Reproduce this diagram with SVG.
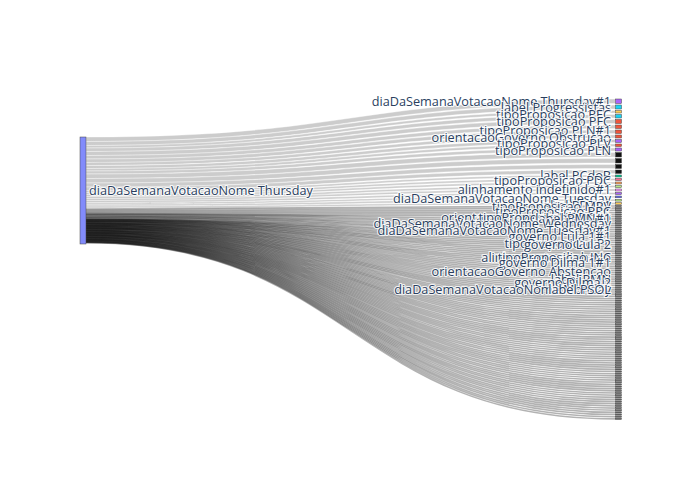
<svg xmlns="http://www.w3.org/2000/svg" width="700" height="500" viewBox="0 0 700 500">
<style>
.lk{fill:#000;fill-opacity:.2;stroke:#fff;stroke-width:.5;stroke-opacity:.8}
.ln{fill:none;stroke:#000;stroke-opacity:.3;stroke-width:1.6}
.nd{stroke:#444;stroke-width:.5}
.nm{fill:#666;stroke:#444;stroke-width:.5}
.lb{font-family:"Open Sans","Liberation Sans",sans-serif;font-size:12.7px;fill:#2a3f5f;stroke:#fff;stroke-width:2.2px;stroke-opacity:.85;stroke-linejoin:round;paint-order:stroke}
.r{text-anchor:end}
</style>
<rect width="700" height="500" fill="#fff"/>
<g id="connectors">
<path class="lk" d="M86,137C351,137 351,99 615.5,99L615.5,103.5C351,103.5 351,141.5 86,141.5Z"/>
<path class="lk" d="M86,141.5C351,141.5 351,105 615.5,105L615.5,109C351,109 351,145.5 86,145.5Z"/>
<path class="lk" d="M86,145.5C351,145.5 351,110.5 615.5,110.5L615.5,113C351,113 351,148 86,148Z"/>
<path class="lk" d="M86,148C351,148 351,114.5 615.5,114.5L615.5,118C351,118 351,151.5 86,151.5Z"/>
<path class="lk" d="M86,151.5C351,151.5 351,119.5 615.5,119.5L615.5,123.5C351,123.5 351,155.5 86,155.5Z"/>
<path class="lk" d="M86,155.5C351,155.5 351,125 615.5,125L615.5,128.5C351,128.5 351,159 86,159Z"/>
<path class="lk" d="M86,159C351,159 351,130 615.5,130L615.5,133.5C351,133.5 351,162.5 86,162.5Z"/>
<path class="lk" d="M86,162.5C351,162.5 351,135 615.5,135L615.5,138C351,138 351,165.5 86,165.5Z"/>
<path class="lk" d="M86,165.5C351,165.5 351,139.5 615.5,139.5L615.5,142.5C351,142.5 351,168.5 86,168.5Z"/>
<path class="lk" d="M86,168.5C351,168.5 351,144 615.5,144L615.5,146.5C351,146.5 351,171 86,171Z"/>
<path class="lk" d="M86,171C351,171 351,148 615.5,148L615.5,151C351,151 351,174 86,174Z"/>
<path class="lk" d="M86,174C351,174 351,152.5 615.5,152.5L615.5,157C351,157 351,178.5 86,178.5Z"/>
<path class="lk" d="M86,178.5C351,178.5 351,158.5 615.5,158.5L615.5,163C351,163 351,183 86,183Z"/>
<path class="lk" d="M86,183C351,183 351,164.5 615.5,164.5L615.5,168.5C351,168.5 351,187 86,187Z"/>
<path class="lk" d="M86,187C351,187 351,170 615.5,170L615.5,173.5C351,173.5 351,190.5 86,190.5Z"/>
<path class="lk" d="M86,190.5C351,190.5 351,175 615.5,175L615.5,177C351,177 351,192.5 86,192.5Z"/>
<path class="lk" d="M86,192.5C351,192.5 351,178.5 615.5,178.5L615.5,180.5C351,180.5 351,194.5 86,194.5Z"/>
<path class="lk" d="M86,194.5C351,194.5 351,182 615.5,182L615.5,184C351,184 351,196.5 86,196.5Z"/>
<path class="lk" d="M86,196.5C351,196.5 351,185.5 615.5,185.5L615.5,187.5C351,187.5 351,198.5 86,198.5Z"/>
<path class="lk" d="M86,198.5C351,198.5 351,189 615.5,189L615.5,191C351,191 351,200.5 86,200.5Z"/>
<path class="lk" d="M86,200.5C351,200.5 351,192.5 615.5,192.5L615.5,194.5C351,194.5 351,202.5 86,202.5Z"/>
<path class="lk" d="M86,202.5C351,202.5 351,196 615.5,196L615.5,197.8C351,197.8 351,204.3 86,204.3Z"/>
<path class="lk" d="M86,204.3C351,204.3 351,199.3 615.5,199.3L615.5,201.1C351,201.1 351,206.1 86,206.1Z"/>
<path class="lk" d="M86,206.1C351,206.1 351,202.6 615.5,202.6L615.5,204.4C351,204.4 351,207.9 86,207.9Z"/>
<path class="ln" d="M86,209C351,209 351,206 615.5,206"/>
<path class="ln" d="M86,210C351,210 351,208.15 615.5,208.15"/>
<path class="ln" d="M86,211C351,211 351,210.3 615.5,210.3"/>
<path class="ln" d="M86,212C351,212 351,212.45 615.5,212.45"/>
<path class="ln" d="M86,213C351,213 351,214.6 615.5,214.6"/>
<path class="ln" d="M86,213.6C351,213.6 351,216.75 615.5,216.75"/>
<path class="ln" d="M86,214.2C351,214.2 351,218.9 615.5,218.9"/>
<path class="ln" d="M86,214.8C351,214.8 351,221.05 615.5,221.05"/>
<path class="ln" d="M86,215.4C351,215.4 351,223.2 615.5,223.2"/>
<path class="ln" d="M86,216C351,216 351,225.35 615.5,225.35"/>
<path class="ln" d="M86,216.6C351,216.6 351,227.5 615.5,227.5"/>
<path class="ln" d="M86,217.2C351,217.2 351,229.65 615.5,229.65"/>
<path class="ln" d="M86,217.8C351,217.8 351,231.8 615.5,231.8"/>
<path class="ln" d="M86,218.4C351,218.4 351,233.95 615.5,233.95"/>
<path class="ln" d="M86,219C351,219 351,236.1 615.5,236.1"/>
<path class="ln" d="M86,219.3C351,219.3 351,238.25 615.5,238.25"/>
<path class="ln" d="M86,219.58C351,219.58 351,240.4 615.5,240.4"/>
<path class="ln" d="M86,219.86C351,219.86 351,242.55 615.5,242.55"/>
<path class="ln" d="M86,220.14C351,220.14 351,244.7 615.5,244.7"/>
<path class="ln" d="M86,220.42C351,220.42 351,246.85 615.5,246.85"/>
<path class="ln" d="M86,220.7C351,220.7 351,249 615.5,249"/>
<path class="ln" d="M86,220.98C351,220.98 351,251.15 615.5,251.15"/>
<path class="ln" d="M86,221.26C351,221.26 351,253.3 615.5,253.3"/>
<path class="ln" d="M86,221.54C351,221.54 351,255.45 615.5,255.45"/>
<path class="ln" d="M86,221.82C351,221.82 351,257.6 615.5,257.6"/>
<path class="ln" d="M86,222.1C351,222.1 351,259.75 615.5,259.75"/>
<path class="ln" d="M86,222.38C351,222.38 351,261.9 615.5,261.9"/>
<path class="ln" d="M86,222.66C351,222.66 351,264.05 615.5,264.05"/>
<path class="ln" d="M86,222.94C351,222.94 351,266.2 615.5,266.2"/>
<path class="ln" d="M86,223.22C351,223.22 351,268.35 615.5,268.35"/>
<path class="ln" d="M86,223.5C351,223.5 351,270.5 615.5,270.5"/>
<path class="ln" d="M86,223.78C351,223.78 351,272.65 615.5,272.65"/>
<path class="ln" d="M86,224.06C351,224.06 351,274.8 615.5,274.8"/>
<path class="ln" d="M86,224.34C351,224.34 351,276.95 615.5,276.95"/>
<path class="ln" d="M86,224.62C351,224.62 351,279.1 615.5,279.1"/>
<path class="ln" d="M86,224.9C351,224.9 351,281.25 615.5,281.25"/>
<path class="ln" d="M86,225.18C351,225.18 351,283.4 615.5,283.4"/>
<path class="ln" d="M86,225.46C351,225.46 351,285.55 615.5,285.55"/>
<path class="ln" d="M86,225.74C351,225.74 351,287.7 615.5,287.7"/>
<path class="ln" d="M86,226.02C351,226.02 351,289.85 615.5,289.85"/>
<path class="ln" d="M86,226.3C351,226.3 351,292 615.5,292"/>
<path class="ln" d="M86,226.58C351,226.58 351,294.15 615.5,294.15"/>
<path class="ln" d="M86,226.86C351,226.86 351,296.3 615.5,296.3"/>
<path class="ln" d="M86,227.14C351,227.14 351,298.45 615.5,298.45"/>
<path class="ln" d="M86,227.42C351,227.42 351,300.6 615.5,300.6"/>
<path class="ln" d="M86,227.7C351,227.7 351,302.75 615.5,302.75"/>
<path class="ln" d="M86,227.98C351,227.98 351,304.9 615.5,304.9"/>
<path class="ln" d="M86,228.26C351,228.26 351,307.05 615.5,307.05"/>
<path class="ln" d="M86,228.54C351,228.54 351,309.2 615.5,309.2"/>
<path class="ln" d="M86,228.82C351,228.82 351,311.35 615.5,311.35"/>
<path class="ln" d="M86,229.1C351,229.1 351,313.5 615.5,313.5"/>
<path class="ln" d="M86,229.38C351,229.38 351,315.65 615.5,315.65"/>
<path class="ln" d="M86,229.66C351,229.66 351,317.8 615.5,317.8"/>
<path class="ln" d="M86,229.94C351,229.94 351,319.95 615.5,319.95"/>
<path class="ln" d="M86,230.22C351,230.22 351,322.1 615.5,322.1"/>
<path class="ln" d="M86,230.5C351,230.5 351,324.25 615.5,324.25"/>
<path class="ln" d="M86,230.78C351,230.78 351,326.4 615.5,326.4"/>
<path class="ln" d="M86,231.06C351,231.06 351,328.55 615.5,328.55"/>
<path class="ln" d="M86,231.34C351,231.34 351,330.7 615.5,330.7"/>
<path class="ln" d="M86,231.62C351,231.62 351,332.85 615.5,332.85"/>
<path class="ln" d="M86,231.9C351,231.9 351,335 615.5,335"/>
<path class="ln" d="M86,232.18C351,232.18 351,337.15 615.5,337.15"/>
<path class="ln" d="M86,232.46C351,232.46 351,339.3 615.5,339.3"/>
<path class="ln" d="M86,232.74C351,232.74 351,341.45 615.5,341.45"/>
<path class="ln" d="M86,233.02C351,233.02 351,343.6 615.5,343.6"/>
<path class="ln" d="M86,233.3C351,233.3 351,345.75 615.5,345.75"/>
<path class="ln" d="M86,233.58C351,233.58 351,347.9 615.5,347.9"/>
<path class="ln" d="M86,233.86C351,233.86 351,350.05 615.5,350.05"/>
<path class="ln" d="M86,234.14C351,234.14 351,352.2 615.5,352.2"/>
<path class="ln" d="M86,234.42C351,234.42 351,354.35 615.5,354.35"/>
<path class="ln" d="M86,234.7C351,234.7 351,356.5 615.5,356.5"/>
<path class="ln" d="M86,234.98C351,234.98 351,358.65 615.5,358.65"/>
<path class="ln" d="M86,235.26C351,235.26 351,360.8 615.5,360.8"/>
<path class="ln" d="M86,235.54C351,235.54 351,362.95 615.5,362.95"/>
<path class="ln" d="M86,235.82C351,235.82 351,365.1 615.5,365.1"/>
<path class="ln" d="M86,236.1C351,236.1 351,367.25 615.5,367.25"/>
<path class="ln" d="M86,236.38C351,236.38 351,369.4 615.5,369.4"/>
<path class="ln" d="M86,236.66C351,236.66 351,371.55 615.5,371.55"/>
<path class="ln" d="M86,236.94C351,236.94 351,373.7 615.5,373.7"/>
<path class="ln" d="M86,237.22C351,237.22 351,375.85 615.5,375.85"/>
<path class="ln" d="M86,237.5C351,237.5 351,378 615.5,378"/>
<path class="ln" d="M86,237.78C351,237.78 351,380.15 615.5,380.15"/>
<path class="ln" d="M86,238.06C351,238.06 351,382.3 615.5,382.3"/>
<path class="ln" d="M86,238.34C351,238.34 351,384.45 615.5,384.45"/>
<path class="ln" d="M86,238.62C351,238.62 351,386.6 615.5,386.6"/>
<path class="ln" d="M86,238.9C351,238.9 351,388.75 615.5,388.75"/>
<path class="ln" d="M86,239.18C351,239.18 351,390.9 615.5,390.9"/>
<path class="ln" d="M86,239.46C351,239.46 351,393.05 615.5,393.05"/>
<path class="ln" d="M86,239.74C351,239.74 351,395.2 615.5,395.2"/>
<path class="ln" d="M86,240.02C351,240.02 351,397.35 615.5,397.35"/>
<path class="ln" d="M86,240.3C351,240.3 351,399.5 615.5,399.5"/>
<path class="ln" d="M86,240.58C351,240.58 351,401.65 615.5,401.65"/>
<path class="ln" d="M86,240.86C351,240.86 351,403.8 615.5,403.8"/>
<path class="ln" d="M86,241.14C351,241.14 351,405.95 615.5,405.95"/>
<path class="ln" d="M86,241.42C351,241.42 351,408.1 615.5,408.1"/>
<path class="ln" d="M86,241.7C351,241.7 351,410.25 615.5,410.25"/>
<path class="ln" d="M86,241.98C351,241.98 351,412.4 615.5,412.4"/>
<path class="ln" d="M86,242.26C351,242.26 351,414.55 615.5,414.55"/>
<path class="ln" d="M86,242.54C351,242.54 351,416.7 615.5,416.7"/>
<path class="ln" d="M86,242.82C351,242.82 351,418.85 615.5,418.85"/>
</g>
<g id="node-source"><rect class="nd" x="80" y="137" width="6" height="107" fill="#636efa" fill-opacity=".8"/></g>
<g id="node-u1"><rect class="nd" x="615.5" y="99" width="6" height="4.5" fill="#ab63fa"/></g>
<g id="node-u2"><rect class="nd" x="615.5" y="105" width="6" height="4" fill="#19d3f3"/></g>
<g id="node-u3"><rect class="nd" x="615.5" y="110.5" width="6" height="2.5" fill="#fecb52"/></g>
<g id="node-u4"><rect class="nd" x="615.5" y="114.5" width="6" height="3.5" fill="#19d3f3"/></g>
<g id="node-u5"><rect class="nd" x="615.5" y="119.5" width="6" height="4" fill="#ef553b"/></g>
<g id="node-u6"><rect class="nd" x="615.5" y="125" width="6" height="3.5" fill="#ef553b"/></g>
<g id="node-u7"><rect class="nd" x="615.5" y="130" width="6" height="3.5" fill="#ef553b"/></g>
<g id="node-u8"><rect class="nd" x="615.5" y="135" width="6" height="3" fill="#ef553b"/></g>
<g id="node-u9"><rect class="nd" x="615.5" y="139.5" width="6" height="3" fill="#ab63fa"/></g>
<g id="node-u10"><rect class="nd" x="615.5" y="144" width="6" height="2.5" fill="#ef553b"/></g>
<g id="node-u11"><rect class="nd" x="615.5" y="148" width="6" height="3" fill="#ab63fa"/></g>
<g id="node-u12"><rect class="nd" x="615.5" y="152.5" width="6" height="4.5" fill="#111"/></g>
<g id="node-u13"><rect class="nd" x="615.5" y="158.5" width="6" height="4.5" fill="#111"/></g>
<g id="node-u14"><rect class="nd" x="615.5" y="164.5" width="6" height="4" fill="#111"/></g>
<g id="node-u15"><rect class="nd" x="615.5" y="170" width="6" height="3.5" fill="#111"/></g>
<g id="node-u16"><rect class="nd" x="615.5" y="175" width="6" height="2" fill="#00cc96"/></g>
<g id="node-u17"><rect class="nd" x="615.5" y="178.5" width="6" height="2" fill="#ff6692"/></g>
<g id="node-u18"><rect class="nd" x="615.5" y="182" width="6" height="2" fill="#ffa15a"/></g>
<g id="node-u19"><rect class="nd" x="615.5" y="185.5" width="6" height="2" fill="#b6e880"/></g>
<g id="node-u20"><rect class="nd" x="615.5" y="189" width="6" height="2" fill="#ff97ff"/></g>
<g id="node-u21"><rect class="nd" x="615.5" y="192.5" width="6" height="2" fill="#ab63fa"/></g>
<g id="node-u22"><rect class="nd" x="615.5" y="196" width="6" height="1.8" fill="#636efa"/></g>
<g id="node-u23"><rect class="nd" x="615.5" y="199.3" width="6" height="1.8" fill="#b6e880"/></g>
<g id="node-u24"><rect class="nd" x="615.5" y="202.6" width="6" height="1.8" fill="#fecb52"/></g>
<g id="node-m0"><rect class="nm" x="615.5" y="205.4" width="6" height="1.2"/></g>
<g id="node-m1"><rect class="nm" x="615.5" y="207.55" width="6" height="1.2"/></g>
<g id="node-m2"><rect class="nm" x="615.5" y="209.7" width="6" height="1.2"/></g>
<g id="node-m3"><rect class="nm" x="615.5" y="211.85" width="6" height="1.2"/></g>
<g id="node-m4"><rect class="nm" x="615.5" y="214" width="6" height="1.2"/></g>
<g id="node-m5"><rect class="nm" x="615.5" y="216.15" width="6" height="1.2"/></g>
<g id="node-m6"><rect class="nm" x="615.5" y="218.3" width="6" height="1.2"/></g>
<g id="node-m7"><rect class="nm" x="615.5" y="220.45" width="6" height="1.2"/></g>
<g id="node-m8"><rect class="nm" x="615.5" y="222.6" width="6" height="1.2"/></g>
<g id="node-m9"><rect class="nm" x="615.5" y="224.75" width="6" height="1.2"/></g>
<g id="node-m10"><rect class="nm" x="615.5" y="226.9" width="6" height="1.2"/></g>
<g id="node-m11"><rect class="nm" x="615.5" y="229.05" width="6" height="1.2"/></g>
<g id="node-m12"><rect class="nm" x="615.5" y="231.2" width="6" height="1.2"/></g>
<g id="node-m13"><rect class="nm" x="615.5" y="233.35" width="6" height="1.2"/></g>
<g id="node-m14"><rect class="nm" x="615.5" y="235.5" width="6" height="1.2"/></g>
<g id="node-m15"><rect class="nm" x="615.5" y="237.65" width="6" height="1.2"/></g>
<g id="node-m16"><rect class="nm" x="615.5" y="239.8" width="6" height="1.2"/></g>
<g id="node-m17"><rect class="nm" x="615.5" y="241.95" width="6" height="1.2"/></g>
<g id="node-m18"><rect class="nm" x="615.5" y="244.1" width="6" height="1.2"/></g>
<g id="node-m19"><rect class="nm" x="615.5" y="246.25" width="6" height="1.2"/></g>
<g id="node-m20"><rect class="nm" x="615.5" y="248.4" width="6" height="1.2"/></g>
<g id="node-m21"><rect class="nm" x="615.5" y="250.55" width="6" height="1.2"/></g>
<g id="node-m22"><rect class="nm" x="615.5" y="252.7" width="6" height="1.2"/></g>
<g id="node-m23"><rect class="nm" x="615.5" y="254.85" width="6" height="1.2"/></g>
<g id="node-m24"><rect class="nm" x="615.5" y="257" width="6" height="1.2"/></g>
<g id="node-m25"><rect class="nm" x="615.5" y="259.15" width="6" height="1.2"/></g>
<g id="node-m26"><rect class="nm" x="615.5" y="261.3" width="6" height="1.2"/></g>
<g id="node-m27"><rect class="nm" x="615.5" y="263.45" width="6" height="1.2"/></g>
<g id="node-m28"><rect class="nm" x="615.5" y="265.6" width="6" height="1.2"/></g>
<g id="node-m29"><rect class="nm" x="615.5" y="267.75" width="6" height="1.2"/></g>
<g id="node-m30"><rect class="nm" x="615.5" y="269.9" width="6" height="1.2"/></g>
<g id="node-m31"><rect class="nm" x="615.5" y="272.05" width="6" height="1.2"/></g>
<g id="node-m32"><rect class="nm" x="615.5" y="274.2" width="6" height="1.2"/></g>
<g id="node-m33"><rect class="nm" x="615.5" y="276.35" width="6" height="1.2"/></g>
<g id="node-m34"><rect class="nm" x="615.5" y="278.5" width="6" height="1.2"/></g>
<g id="node-m35"><rect class="nm" x="615.5" y="280.65" width="6" height="1.2"/></g>
<g id="node-m36"><rect class="nm" x="615.5" y="282.8" width="6" height="1.2"/></g>
<g id="node-m37"><rect class="nm" x="615.5" y="284.95" width="6" height="1.2"/></g>
<g id="node-m38"><rect class="nm" x="615.5" y="287.1" width="6" height="1.2"/></g>
<g id="node-m39"><rect class="nm" x="615.5" y="289.25" width="6" height="1.2"/></g>
<g id="node-m40"><rect class="nm" x="615.5" y="291.4" width="6" height="1.2"/></g>
<g id="node-m41"><rect class="nm" x="615.5" y="293.55" width="6" height="1.2"/></g>
<g id="node-m42"><rect class="nm" x="615.5" y="295.7" width="6" height="1.2"/></g>
<g id="node-m43"><rect class="nm" x="615.5" y="297.85" width="6" height="1.2"/></g>
<g id="node-m44"><rect class="nm" x="615.5" y="300" width="6" height="1.2"/></g>
<g id="node-m45"><rect class="nm" x="615.5" y="302.15" width="6" height="1.2"/></g>
<g id="node-m46"><rect class="nm" x="615.5" y="304.3" width="6" height="1.2"/></g>
<g id="node-m47"><rect class="nm" x="615.5" y="306.45" width="6" height="1.2"/></g>
<g id="node-m48"><rect class="nm" x="615.5" y="308.6" width="6" height="1.2"/></g>
<g id="node-m49"><rect class="nm" x="615.5" y="310.75" width="6" height="1.2"/></g>
<g id="node-m50"><rect class="nm" x="615.5" y="312.9" width="6" height="1.2"/></g>
<g id="node-m51"><rect class="nm" x="615.5" y="315.05" width="6" height="1.2"/></g>
<g id="node-m52"><rect class="nm" x="615.5" y="317.2" width="6" height="1.2"/></g>
<g id="node-m53"><rect class="nm" x="615.5" y="319.35" width="6" height="1.2"/></g>
<g id="node-m54"><rect class="nm" x="615.5" y="321.5" width="6" height="1.2"/></g>
<g id="node-m55"><rect class="nm" x="615.5" y="323.65" width="6" height="1.2"/></g>
<g id="node-m56"><rect class="nm" x="615.5" y="325.8" width="6" height="1.2"/></g>
<g id="node-m57"><rect class="nm" x="615.5" y="327.95" width="6" height="1.2"/></g>
<g id="node-m58"><rect class="nm" x="615.5" y="330.1" width="6" height="1.2"/></g>
<g id="node-m59"><rect class="nm" x="615.5" y="332.25" width="6" height="1.2"/></g>
<g id="node-m60"><rect class="nm" x="615.5" y="334.4" width="6" height="1.2"/></g>
<g id="node-m61"><rect class="nm" x="615.5" y="336.55" width="6" height="1.2"/></g>
<g id="node-m62"><rect class="nm" x="615.5" y="338.7" width="6" height="1.2"/></g>
<g id="node-m63"><rect class="nm" x="615.5" y="340.85" width="6" height="1.2"/></g>
<g id="node-m64"><rect class="nm" x="615.5" y="343" width="6" height="1.2"/></g>
<g id="node-m65"><rect class="nm" x="615.5" y="345.15" width="6" height="1.2"/></g>
<g id="node-m66"><rect class="nm" x="615.5" y="347.3" width="6" height="1.2"/></g>
<g id="node-m67"><rect class="nm" x="615.5" y="349.45" width="6" height="1.2"/></g>
<g id="node-m68"><rect class="nm" x="615.5" y="351.6" width="6" height="1.2"/></g>
<g id="node-m69"><rect class="nm" x="615.5" y="353.75" width="6" height="1.2"/></g>
<g id="node-m70"><rect class="nm" x="615.5" y="355.9" width="6" height="1.2"/></g>
<g id="node-m71"><rect class="nm" x="615.5" y="358.05" width="6" height="1.2"/></g>
<g id="node-m72"><rect class="nm" x="615.5" y="360.2" width="6" height="1.2"/></g>
<g id="node-m73"><rect class="nm" x="615.5" y="362.35" width="6" height="1.2"/></g>
<g id="node-m74"><rect class="nm" x="615.5" y="364.5" width="6" height="1.2"/></g>
<g id="node-m75"><rect class="nm" x="615.5" y="366.65" width="6" height="1.2"/></g>
<g id="node-m76"><rect class="nm" x="615.5" y="368.8" width="6" height="1.2"/></g>
<g id="node-m77"><rect class="nm" x="615.5" y="370.95" width="6" height="1.2"/></g>
<g id="node-m78"><rect class="nm" x="615.5" y="373.1" width="6" height="1.2"/></g>
<g id="node-m79"><rect class="nm" x="615.5" y="375.25" width="6" height="1.2"/></g>
<g id="node-m80"><rect class="nm" x="615.5" y="377.4" width="6" height="1.2"/></g>
<g id="node-m81"><rect class="nm" x="615.5" y="379.55" width="6" height="1.2"/></g>
<g id="node-m82"><rect class="nm" x="615.5" y="381.7" width="6" height="1.2"/></g>
<g id="node-m83"><rect class="nm" x="615.5" y="383.85" width="6" height="1.2"/></g>
<g id="node-m84"><rect class="nm" x="615.5" y="386" width="6" height="1.2"/></g>
<g id="node-m85"><rect class="nm" x="615.5" y="388.15" width="6" height="1.2"/></g>
<g id="node-m86"><rect class="nm" x="615.5" y="390.3" width="6" height="1.2"/></g>
<g id="node-m87"><rect class="nm" x="615.5" y="392.45" width="6" height="1.2"/></g>
<g id="node-m88"><rect class="nm" x="615.5" y="394.6" width="6" height="1.2"/></g>
<g id="node-m89"><rect class="nm" x="615.5" y="396.75" width="6" height="1.2"/></g>
<g id="node-m90"><rect class="nm" x="615.5" y="398.9" width="6" height="1.2"/></g>
<g id="node-m91"><rect class="nm" x="615.5" y="401.05" width="6" height="1.2"/></g>
<g id="node-m92"><rect class="nm" x="615.5" y="403.2" width="6" height="1.2"/></g>
<g id="node-m93"><rect class="nm" x="615.5" y="405.35" width="6" height="1.2"/></g>
<g id="node-m94"><rect class="nm" x="615.5" y="407.5" width="6" height="1.2"/></g>
<g id="node-m95"><rect class="nm" x="615.5" y="409.65" width="6" height="1.2"/></g>
<g id="node-m96"><rect class="nm" x="615.5" y="411.8" width="6" height="1.2"/></g>
<g id="node-m97"><rect class="nm" x="615.5" y="413.95" width="6" height="1.2"/></g>
<g id="node-m98"><rect class="nm" x="615.5" y="416.1" width="6" height="1.2"/></g>
<g id="node-m99"><rect class="nm" x="615.5" y="418.25" width="6" height="1.2"/></g>
<g id="labels">
<text class="lb" x="89" y="195">diaDaSemanaVotacaoNome Thursday</text>
<text class="lb r" x="611" y="106">diaDaSemanaVotacaoNome Thursday#1</text>
<text class="lb r" x="611" y="112">label Progressistas</text>
<text class="lb r" x="611" y="118.5">tipoProposicao PEC</text>
<text class="lb r" x="611" y="126">tipoProposicao PFC</text>
<text class="lb r" x="611" y="135">tipoProposicao PLN#1</text>
<text class="lb r" x="611" y="142.3">orientacaoGoverno Obstrucao</text>
<text class="lb r" x="611" y="147.5">tipoProposicao PLV</text>
<text class="lb r" x="611" y="155">tipoProposicao PLN</text>
<text class="lb r" x="611" y="180">label PCdoB</text>
<text class="lb r" x="611" y="184.5">tipoProposicao PDC</text>
<text class="lb r" x="611" y="193.5">alinhamento indefinido#1</text>
<text class="lb r" x="611" y="203.3">diaDaSemanaVotacaoNome Tuesday</text>
<text class="lb r" x="611" y="210">label PDT#1</text>
<text class="lb r" x="611" y="211">tipoProposicao MPV</text>
<text class="lb r" x="611" y="216">tipoProposicao PRC</text>
<text class="lb r" x="611" y="221.7">orientacaoGoverno Liberado</text>
<text class="lb r" x="611" y="222">tipoProposicao PDC#1</text>
<text class="lb r" x="611" y="223">label PMN#1</text>
<text class="lb r" x="611" y="228.3">diaDaSemanaVotacaoNome Wednesday</text>
<text class="lb r" x="611" y="235">diaDaSemanaVotacaoNome Tuesday#1</text>
<text class="lb r" x="611" y="241">governo Lula 1#1</text>
<text class="lb r" x="611" y="248">tipoProposicao PL</text>
<text class="lb r" x="611" y="248.5">governo Lula 2</text>
<text class="lb r" x="611" y="261.5">alinhamento alinhado</text>
<text class="lb r" x="611" y="262">tipoProposicao INC</text>
<text class="lb r" x="611" y="267">governo Dilma 1#1</text>
<text class="lb r" x="611" y="276">orientacaoGoverno Abstencao</text>
<text class="lb r" x="611" y="283.5">label PMN</text>
<text class="lb r" x="611" y="287">governo Dilma 2</text>
<text class="lb r" x="611" y="294.3">diaDaSemanaVotacaoNome Monday</text>
<text class="lb r" x="611" y="294.3">label PSOL</text>
</g>
</svg>
